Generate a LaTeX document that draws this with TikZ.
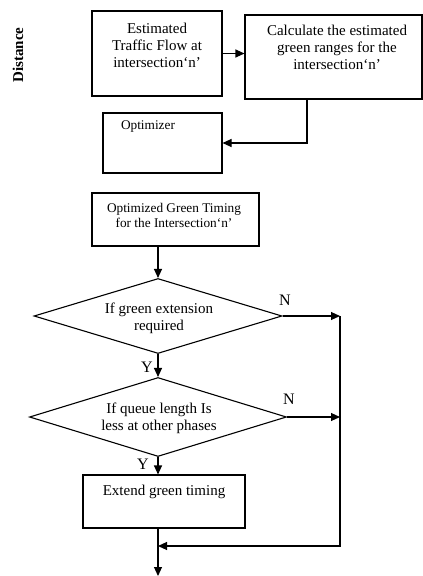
\documentclass[tikz,border=0pt]{standalone}
\usepackage{fontspec}
\setmainfont{Liberation Serif}
\usetikzlibrary{shapes.geometric,arrows.meta}
\begin{document}
\begin{tikzpicture}[x=1pt,y=-1pt,
  box/.style={draw,line width=1.1pt,inner sep=0pt},
  dec/.style={draw,diamond,line width=1.1pt,inner sep=0pt},
  arr/.style={line width=1.1pt,-{Triangle[length=9pt,width=8pt]}},
  txt/.style={align=center,inner sep=0pt},
  fa/.style={font=\fontsize{15}{17}\selectfont},
  fb/.style={font=\fontsize{13.3}{15}\selectfont},
  fyn/.style={font=\fontsize{16}{18}\selectfont,inner sep=0pt}]
\useasboundingbox (0,0) rectangle (423,576);
% boxes
\node[box,minimum width=130pt,minimum height=85pt] (b1) at (157,53.5) {};
\node[box,minimum width=177pt,minimum height=84pt] (b2) at (333.5,57) {};
\node[box,minimum width=119pt,minimum height=60pt] (b3) at (162.5,143) {};
\node[box,minimum width=167pt,minimum height=53pt] (b4) at (175.5,219.5) {};
\node[box,minimum width=162pt,minimum height=53pt] (b5) at (164,501.5) {};
\node[dec,minimum width=248pt,minimum height=75pt] (d1) at (158,316) {};
\node[dec,minimum width=257pt,minimum height=79pt] (d2) at (158,417) {};
% texts
\node[txt,fa] (t1) at (157,45) {Estimated\\Traffic Flow at\\intersection‘n’};
\node[txt,fa] (t2) at (337,47) {Calculate the estimated\\green ranges for the\\intersection‘n’};
\node[txt,fb] (t3) at (148,127) {Optimizer};
\node[txt,fb] (t4) at (174,215.5) {Optimized Green Timing\\for the Intersection‘n’};
\node[txt,fa] (t5) at (159,318) {If green extension\\required};
\node[txt,fa] (t6) at (159,418) {If queue length Is\\less at other phases};
\node[txt,fa] (t7) at (164,492) {Extend green timing};
\node[rotate=90,inner sep=0pt,font=\bfseries\fontsize{15}{17}\selectfont] (dist) at (18,55) {Distance};
% helper coordinates
\coordinate (k) at (307,0);
\coordinate (r1) at (340,316);
\coordinate (r2) at (340,417);
\coordinate (r3) at (340,546);
\coordinate (j) at (158,546);
\coordinate (bot) at (158,576);
% connectors
\draw[arr] (b1.east) -- (b1.east -| b2.west);
\draw[arr] (b2.south -| k) |- (b3.east);
\draw[arr] (b4.south -| d1.north) -- (d1.north);
\draw[arr] (d1.south) -- (d2.north);
\draw[arr] (d2.south) -- (b5.north -| d2.south);
\draw[arr] (d1.east) -- (r1);
\draw[arr] (d2.east) -- (r2);
\draw[arr] (r1) -- (r3) -- (j);
\draw[arr] (b5.south -| d2.south) -- (bot);
% labels
\node[fyn] (n1) at (285,300) {N};
\node[fyn] (n2) at (289,399) {N};
\node[fyn] (y1) at (147,367) {Y};
\node[fyn] (y2) at (143,464) {Y};
\end{tikzpicture}
\end{document}
